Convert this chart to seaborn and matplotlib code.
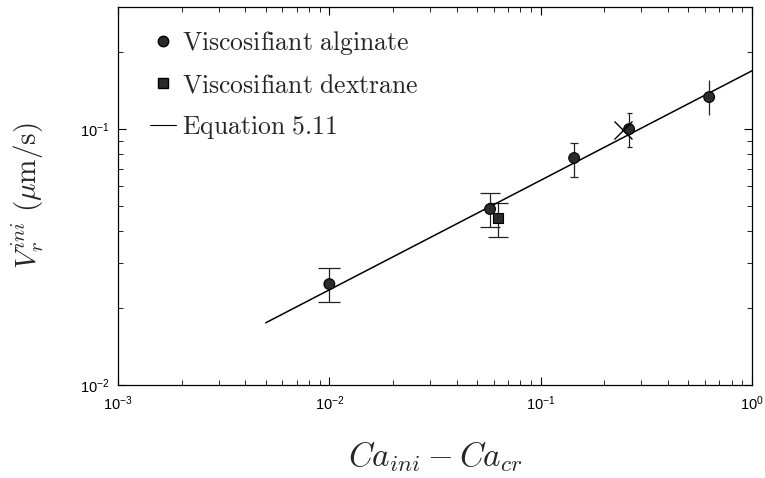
import numpy as np
import pandas as pd
import matplotlib
matplotlib.use("Agg")
import matplotlib.pyplot as plt
from matplotlib.font_manager import FontProperties
from matplotlib.lines import Line2D
import seaborn as sns

# data (log-log axes)
alg_x = [0.0100, 0.0576, 0.144, 0.262, 0.627]
alg_y = [0.0248, 0.0487, 0.0771, 0.1000, 0.1334]
alg_lo = [0.0211, 0.0414, 0.0649, 0.0851, 0.1135]
alg_hi = [0.0286, 0.0562, 0.0881, 0.1155, 0.1550]

dex_x = [0.0628]
dex_y = [0.0449]
dex_lo = [0.0379]
dex_hi = [0.0514]

eq_x = [0.005, 1.0]
eq_y = [0.0175, 0.169]

cross_x = [0.245]
cross_y = [0.099]

legend_labels = ["Viscosifiant alginate", "Viscosifiant dextrane", "Equation 5.11"]

sns.set_style("ticks")
plt.rcParams["font.family"] = ["Liberation Sans", "DejaVu Sans"]
plt.rcParams["mathtext.fontset"] = "custom"
plt.rcParams["mathtext.rm"] = "Liberation Sans"
plt.rcParams["mathtext.it"] = "Liberation Sans:italic"
plt.rcParams["mathtext.bf"] = "Liberation Sans:bold"

cm_ylab = FontProperties(size=21, math_fontfamily="cm")
cm_xlab = FontProperties(size=24, math_fontfamily="cm")
cm_leg = FontProperties(size=18.5, math_fontfamily="cm")

fig = plt.figure(figsize=(7.65, 4.78), dpi=100)
ax = fig.add_axes([118 / 765, 93 / 478, 634 / 765, 378 / 478])

pts = pd.DataFrame({
    "x": alg_x + dex_x,
    "y": alg_y + dex_y,
    "fluid": ["alginate"] * len(alg_x) + ["dextrane"] * len(dex_x),
})

# error bars, cap widths shrink toward the right like the original
alg_caps = [8, 7, 3, 1.8, 0]
for xi, yi, lo, hi, cs in zip(alg_x, alg_y, alg_lo, alg_hi, alg_caps):
    ax.errorbar([xi], [yi], yerr=[[yi - lo], [hi - yi]], fmt="none",
                ecolor="#222222", elinewidth=0.9, capsize=cs, capthick=0.9, zorder=2)
for xi, yi, lo, hi in zip(dex_x, dex_y, dex_lo, dex_hi):
    ax.errorbar([xi], [yi], yerr=[[yi - lo], [hi - yi]], fmt="none",
                ecolor="#222222", elinewidth=0.9, capsize=7, capthick=0.9, zorder=2)

sns.lineplot(x=eq_x, y=eq_y, ax=ax, color="black", linewidth=1.1, zorder=3)

sns.scatterplot(data=pts, x="x", y="y", style="fluid",
                markers={"alginate": "o", "dextrane": "s"},
                s=60, color="#2b2b2b", edgecolor="black",
                linewidth=0.8, legend=False, ax=ax, zorder=4)

ax.plot(cross_x, cross_y, marker="x", ms=13, mew=1.0, color="black",
        linestyle="none", zorder=5)

ax.set_xscale("log")
ax.set_yscale("log")
ax.set_xlim(1e-3, 1e0)
ax.set_ylim(1e-2, 3e-1)

ax.tick_params(which="both", direction="in", top=True, right=True,
               colors="black", labelsize=10.5)
ax.tick_params(which="major", length=6, width=0.8)
ax.tick_params(which="minor", length=3.5, width=0.6)
ax.tick_params(axis="x", which="major", pad=7)
ax.tick_params(axis="y", which="major", pad=6)
for s in ax.spines.values():
    s.set_linewidth(0.9)
    s.set_color("black")

ax.set_xlabel(r"$Ca_{ini} - Ca_{cr}$", fontproperties=cm_xlab)
ax.set_ylabel(r"$V_r^{ini}\ (\mu\mathrm{m/s})$", fontproperties=cm_ylab)
ax.xaxis.set_label_coords(0.5, -0.145)
ax.yaxis.set_label_coords(-0.113, 0.5)

handles = [
    Line2D([], [], marker="o", linestyle="none", ms=7.5, mfc="#2b2b2b", mec="black"),
    Line2D([], [], marker="s", linestyle="none", ms=6.5, mfc="#2b2b2b", mec="black"),
    Line2D([], [], color="black", linewidth=0.8),
]
labels = [r"$\mathrm{" + t.replace(" ", r"\ ") + "}$" for t in legend_labels]
ax.legend(handles, labels, loc="upper left", frameon=False, prop=cm_leg,
          handlelength=1.0, handletextpad=0.25, labelspacing=0.65,
          borderaxespad=0.3, bbox_to_anchor=(0.022, 0.99))

fig.savefig("out.png", dpi=100)
